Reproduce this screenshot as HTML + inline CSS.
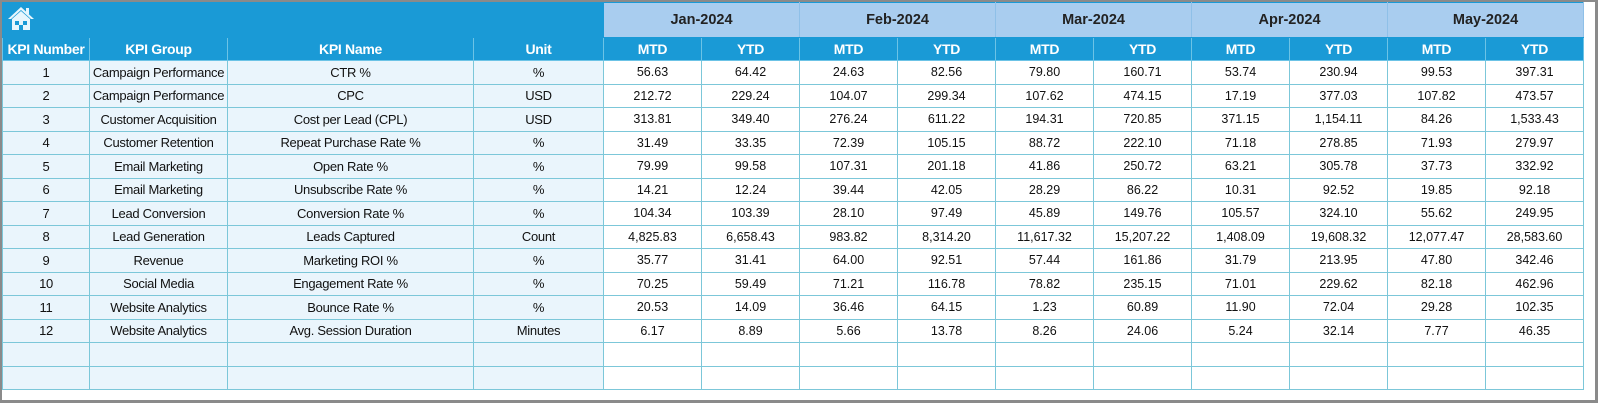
<!DOCTYPE html>
<html><head><meta charset="utf-8"><style>
html,body{margin:0;padding:0;width:1600px;height:403px;background:#fff;overflow:hidden}
.frame{position:absolute;left:0;top:0;width:1598px;height:403px;border:2px solid #8a8a8a;border-right-width:3px;border-bottom-width:3px;background:#fff;box-sizing:border-box}
table{position:absolute;left:0;top:0;width:1582px;border-collapse:collapse;table-layout:fixed;font-family:"Liberation Sans",sans-serif}
td{padding:0;text-align:center;border:1px solid #7cc7d9;font-size:13px;color:#111;white-space:nowrap;overflow:hidden}
tr.top td{height:34px;background:#1a9ad6;border-color:#1a9ad6;font-weight:bold;font-size:14.5px;color:#222}
tr.top td.m{background:#a9cdef;border-left:1px solid #8fc0e8;border-right:1px solid #8fc0e8}
tr.hd td{height:22px;background:#1a9ad6;color:#fff;font-weight:bold;font-size:14px;border-color:#6cc3e6;letter-spacing:-0.3px}
tr.r td{height:22.5px}
tr.r td.l{background:#eaf5fc;font-size:13px;letter-spacing:-0.3px}
tr.r td.n{background:#fff;font-size:12.5px}
</style></head><body>
<div class="frame">
<table>
<colgroup><col style="width:87px"><col style="width:138px"><col style="width:246px"><col style="width:130px">
<col style="width:98px"><col style="width:98px"><col style="width:98px"><col style="width:98px"><col style="width:98px"><col style="width:98px"><col style="width:98px"><col style="width:98px"><col style="width:98px"><col style="width:98px"></colgroup>
<tr class="top"><td colspan="4" style="text-align:left;padding-left:3px"><svg width="30" height="28" viewBox="0 0 30 28"><path d="M15 3 L2 15 L5 15 L15 6 L25 15 L28 15 Z" fill="#e8f6fd"/><rect x="20" y="4" width="3" height="6" fill="#e8f6fd"/><path d="M6 15 L15 7 L24 15 L24 26 L6 26 Z" fill="#e8f6fd"/><rect x="9" y="17" width="4" height="4" fill="#1a9ad6"/><rect x="17" y="17" width="4" height="4" fill="#1a9ad6"/><rect x="13" y="21" width="4" height="5" fill="#1a9ad6"/></svg></td>
<td colspan="2" class="m">Jan-2024</td><td colspan="2" class="m">Feb-2024</td><td colspan="2" class="m">Mar-2024</td><td colspan="2" class="m">Apr-2024</td><td colspan="2" class="m">May-2024</td></tr>
<tr class="hd"><td>KPI Number</td><td>KPI Group</td><td>KPI Name</td><td>Unit</td><td>MTD</td><td>YTD</td><td>MTD</td><td>YTD</td><td>MTD</td><td>YTD</td><td>MTD</td><td>YTD</td><td>MTD</td><td>YTD</td></tr>
<tr class="r"><td class="l">1</td><td class="l">Campaign Performance</td><td class="l">CTR %</td><td class="l">%</td><td class="n">56.63</td><td class="n">64.42</td><td class="n">24.63</td><td class="n">82.56</td><td class="n">79.80</td><td class="n">160.71</td><td class="n">53.74</td><td class="n">230.94</td><td class="n">99.53</td><td class="n">397.31</td></tr>
<tr class="r"><td class="l">2</td><td class="l">Campaign Performance</td><td class="l">CPC</td><td class="l">USD</td><td class="n">212.72</td><td class="n">229.24</td><td class="n">104.07</td><td class="n">299.34</td><td class="n">107.62</td><td class="n">474.15</td><td class="n">17.19</td><td class="n">377.03</td><td class="n">107.82</td><td class="n">473.57</td></tr>
<tr class="r"><td class="l">3</td><td class="l">Customer Acquisition</td><td class="l">Cost per Lead (CPL)</td><td class="l">USD</td><td class="n">313.81</td><td class="n">349.40</td><td class="n">276.24</td><td class="n">611.22</td><td class="n">194.31</td><td class="n">720.85</td><td class="n">371.15</td><td class="n">1,154.11</td><td class="n">84.26</td><td class="n">1,533.43</td></tr>
<tr class="r"><td class="l">4</td><td class="l">Customer Retention</td><td class="l">Repeat Purchase Rate %</td><td class="l">%</td><td class="n">31.49</td><td class="n">33.35</td><td class="n">72.39</td><td class="n">105.15</td><td class="n">88.72</td><td class="n">222.10</td><td class="n">71.18</td><td class="n">278.85</td><td class="n">71.93</td><td class="n">279.97</td></tr>
<tr class="r"><td class="l">5</td><td class="l">Email Marketing</td><td class="l">Open Rate %</td><td class="l">%</td><td class="n">79.99</td><td class="n">99.58</td><td class="n">107.31</td><td class="n">201.18</td><td class="n">41.86</td><td class="n">250.72</td><td class="n">63.21</td><td class="n">305.78</td><td class="n">37.73</td><td class="n">332.92</td></tr>
<tr class="r"><td class="l">6</td><td class="l">Email Marketing</td><td class="l">Unsubscribe Rate %</td><td class="l">%</td><td class="n">14.21</td><td class="n">12.24</td><td class="n">39.44</td><td class="n">42.05</td><td class="n">28.29</td><td class="n">86.22</td><td class="n">10.31</td><td class="n">92.52</td><td class="n">19.85</td><td class="n">92.18</td></tr>
<tr class="r"><td class="l">7</td><td class="l">Lead Conversion</td><td class="l">Conversion Rate %</td><td class="l">%</td><td class="n">104.34</td><td class="n">103.39</td><td class="n">28.10</td><td class="n">97.49</td><td class="n">45.89</td><td class="n">149.76</td><td class="n">105.57</td><td class="n">324.10</td><td class="n">55.62</td><td class="n">249.95</td></tr>
<tr class="r"><td class="l">8</td><td class="l">Lead Generation</td><td class="l">Leads Captured</td><td class="l">Count</td><td class="n">4,825.83</td><td class="n">6,658.43</td><td class="n">983.82</td><td class="n">8,314.20</td><td class="n">11,617.32</td><td class="n">15,207.22</td><td class="n">1,408.09</td><td class="n">19,608.32</td><td class="n">12,077.47</td><td class="n">28,583.60</td></tr>
<tr class="r"><td class="l">9</td><td class="l">Revenue</td><td class="l">Marketing ROI %</td><td class="l">%</td><td class="n">35.77</td><td class="n">31.41</td><td class="n">64.00</td><td class="n">92.51</td><td class="n">57.44</td><td class="n">161.86</td><td class="n">31.79</td><td class="n">213.95</td><td class="n">47.80</td><td class="n">342.46</td></tr>
<tr class="r"><td class="l">10</td><td class="l">Social Media</td><td class="l">Engagement Rate %</td><td class="l">%</td><td class="n">70.25</td><td class="n">59.49</td><td class="n">71.21</td><td class="n">116.78</td><td class="n">78.82</td><td class="n">235.15</td><td class="n">71.01</td><td class="n">229.62</td><td class="n">82.18</td><td class="n">462.96</td></tr>
<tr class="r"><td class="l">11</td><td class="l">Website Analytics</td><td class="l">Bounce Rate %</td><td class="l">%</td><td class="n">20.53</td><td class="n">14.09</td><td class="n">36.46</td><td class="n">64.15</td><td class="n">1.23</td><td class="n">60.89</td><td class="n">11.90</td><td class="n">72.04</td><td class="n">29.28</td><td class="n">102.35</td></tr>
<tr class="r"><td class="l">12</td><td class="l">Website Analytics</td><td class="l">Avg. Session Duration</td><td class="l">Minutes</td><td class="n">6.17</td><td class="n">8.89</td><td class="n">5.66</td><td class="n">13.78</td><td class="n">8.26</td><td class="n">24.06</td><td class="n">5.24</td><td class="n">32.14</td><td class="n">7.77</td><td class="n">46.35</td></tr>
<tr class="r"><td class="l"></td><td class="l"></td><td class="l"></td><td class="l"></td><td class="n"></td><td class="n"></td><td class="n"></td><td class="n"></td><td class="n"></td><td class="n"></td><td class="n"></td><td class="n"></td><td class="n"></td><td class="n"></td></tr>
<tr class="r"><td class="l"></td><td class="l"></td><td class="l"></td><td class="l"></td><td class="n"></td><td class="n"></td><td class="n"></td><td class="n"></td><td class="n"></td><td class="n"></td><td class="n"></td><td class="n"></td><td class="n"></td><td class="n"></td></tr>
</table>
</div>
</body></html>
